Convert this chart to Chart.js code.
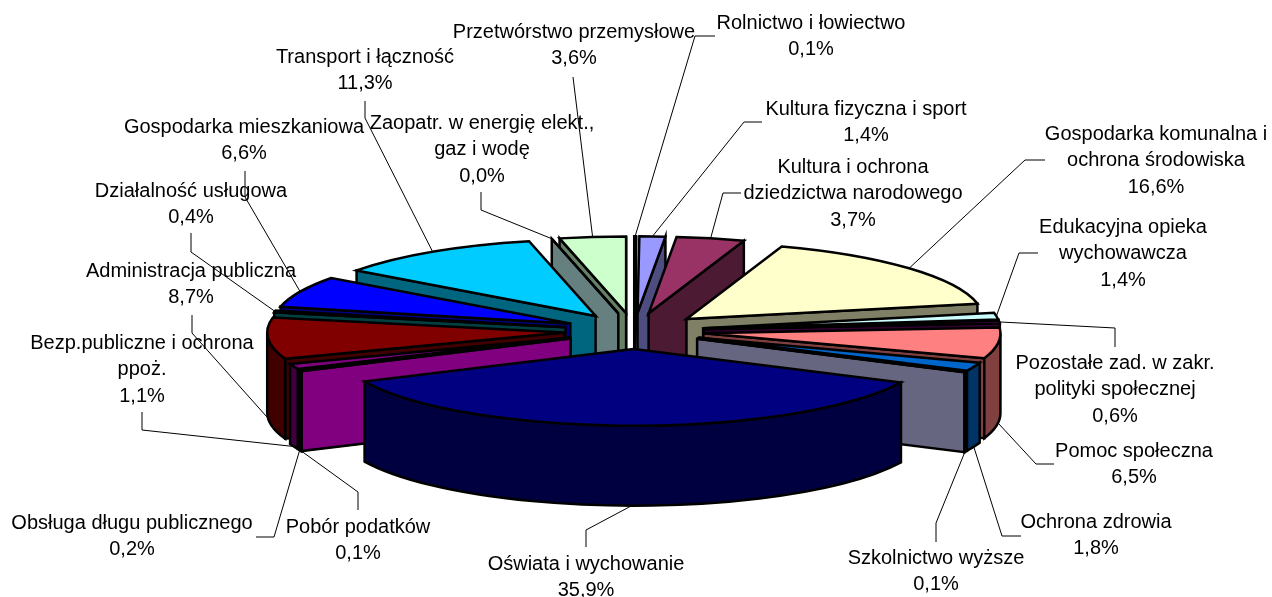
<!DOCTYPE html>
<html>
<head>
<meta charset="utf-8">
<title>Struktura wydatków</title>
<script src="https://cdn.jsdelivr.net/npm/chart.js@4"></script>
<style>
  html, body { margin: 0; padding: 0; background: #fff; overflow: hidden; }
  canvas { display: block; }
</style>
</head>
<body>
<canvas id="chart" width="1272" height="597"></canvas>
<script>
const categories = [
  ['Rolnictwo i łowiectwo'],
  ['Kultura fizyczna i sport'],
  ['Kultura i ochrona', 'dziedzictwa narodowego'],
  ['Gospodarka komunalna i', 'ochrona środowiska'],
  ['Edukacyjna opieka', 'wychowawcza'],
  ['Pozostałe zad. w zakr.', 'polityki społecznej'],
  ['Pomoc społeczna'],
  ['Ochrona zdrowia'],
  ['Szkolnictwo wyższe'],
  ['Oświata i wychowanie'],
  ['Pobór podatków'],
  ['Obsługa długu publicznego'],
  ['Bezp.publiczne i ochrona', 'ppoż.'],
  ['Administracja publiczna'],
  ['Działalność usługowa'],
  ['Gospodarka mieszkaniowa'],
  ['Transport i łączność'],
  ['Zaopatr. w energię elekt.,', 'gaz i wodę'],
  ['Przetwórstwo przemysłowe'],
];
const shares = [0.1, 1.4, 3.7, 16.6, 1.4, 0.6, 6.5, 1.8, 0.1, 35.9, 0.1, 0.2, 1.1, 8.7, 0.4, 6.6, 11.3, 0.0, 3.6];
const sliceColors = [
  '#808080', '#9999FF', '#993366', '#FFFFCC', '#CCFFFF', '#660066', '#FF8080', '#0066CC', '#CCCCFF', '#000080',
  '#FF00FF', '#FFFF00', '#800080', '#800000', '#008080', '#0000FF', '#00CCFF', '#CCFFFF', '#CCFFCC',
];

// label placement: centre x, y of first line, then the leader knee points
const labelX = [811, 866, 853, 1156, 1123, 1115, 1134, 1096, 936, 586, 358, 132, 142, 191, 191, 244, 365, 482, 574];
const labelY = [23, 109, 167, 134, 227, 363, 451, 522, 558, 564, 527, 523, 343, 271, 191, 127, 57, 123, 32];
const leaders = [
  [[715, 36], [695, 36]],
  [[762, 122], [744, 122]],
  [[741, 193], [723, 193]],
  [[1045, 160], [1025, 160]],
  [[1038, 253], [1019, 253]],
  [[1115, 347], [1115, 328]],
  [[1054, 464], [1036, 464]],
  [[1021, 536], [1002, 536]],
  [[936, 542], [936, 523]],
  [[586, 547], [586, 530]],
  [[358, 510], [358, 492]],
  [[256, 537], [274, 537]],
  [[142, 412], [142, 430]],
  [[192, 315], [192, 333]],
  [[191, 233], [191, 252]],
  [[245, 171], [245, 197]],
  [[365, 101], [365, 118]],
  [[481, 192], [481, 210]],
  [[573, 77]],
];

const RADIUS = 297;
const TILT = 0.258;     // vertical squash of the pie
const DEPTH = 80;       // height of the walls
const EXPLODE = 70;
const LINE_HEIGHT = 26.5;

function shade(hex) {
  const n = parseInt(hex.slice(1), 16);
  const half = v => Math.round(v / 2);
  return `rgb(${half(n >> 16)}, ${half((n >> 8) & 255)}, ${half(n & 255)})`;
}

function paint(ctx, fill) {
  ctx.fillStyle = fill;
  ctx.fill();
  ctx.stroke();
}

function drawRadialWall(ctx, ox, oy, angle, fill) {
  const ex = ox + Math.cos(angle) * RADIUS;
  const ey = oy + Math.sin(angle) * RADIUS * TILT;
  ctx.beginPath();
  ctx.moveTo(ox, oy);
  ctx.lineTo(ex, ey);
  ctx.lineTo(ex, ey + DEPTH);
  ctx.lineTo(ox, oy + DEPTH);
  ctx.closePath();
  paint(ctx, fill);
}

function drawSlice(ctx, arc, color) {
  const { startAngle: start, endAngle: end } = arc;
  const mid = (start + end) / 2;
  const ox = arc.x + Math.cos(mid) * EXPLODE;
  const oy = arc.y + Math.sin(mid) * EXPLODE * TILT;
  const wall = shade(color);

  if (Math.cos(end) > 0) drawRadialWall(ctx, ox, oy, end, wall);
  if (Math.cos(start) < 0) drawRadialWall(ctx, ox, oy, start, wall);

  // outer curved wall, only the part that faces the viewer
  const a1 = Math.max(start, 0);
  const a2 = Math.min(end, Math.PI);
  if (a2 > a1) {
    ctx.beginPath();
    ctx.ellipse(ox, oy, RADIUS, RADIUS * TILT, 0, a1, a2);
    ctx.ellipse(ox, oy + DEPTH, RADIUS, RADIUS * TILT, 0, a2, a1, true);
    ctx.closePath();
    paint(ctx, wall);
  }

  // top face: the fill comes from the arc element itself
  ctx.save();
  ctx.translate(ox, oy);
  ctx.scale(1, TILT);
  ctx.translate(-arc.x, -arc.y);
  arc.draw(ctx);
  ctx.restore();

  ctx.beginPath();
  ctx.moveTo(ox, oy);
  ctx.ellipse(ox, oy, RADIUS, RADIUS * TILT, 0, start, end);
  ctx.closePath();
  ctx.stroke();
}

function leaderAnchor(arc) {
  const mid = (arc.startAngle + arc.endAngle) / 2;
  const dist = EXPLODE + RADIUS;
  const x = arc.x + Math.cos(mid) * dist;
  const y = arc.y + Math.sin(mid) * dist * TILT;
  return [x, Math.sin(mid) > 0 ? y + DEPTH : y];
}

const pie3d = {
  id: 'pie3d',
  beforeDatasetsDraw(chart) {
    const ctx = chart.ctx;
    const arcs = chart.getDatasetMeta(0).data;
    const order = arcs.map((_, i) => i).sort((a, b) => {
      const depth = arc => Math.sin((arc.startAngle + arc.endAngle) / 2);
      return depth(arcs[a]) - depth(arcs[b]);
    });

    ctx.save();
    ctx.strokeStyle = '#000';
    ctx.lineWidth = 2.5;
    ctx.lineJoin = 'miter';
    order.forEach(i => drawSlice(ctx, arcs[i], sliceColors[i]));

    ctx.lineWidth = 1;
    leaders.forEach((knees, i) => {
      const [ax, ay] = leaderAnchor(arcs[i]);
      ctx.beginPath();
      knees.forEach(([x, y], k) => (k ? ctx.lineTo(x, y) : ctx.moveTo(x, y)));
      ctx.lineTo(ax, ay);
      ctx.stroke();
    });

    ctx.fillStyle = '#000';
    ctx.font = '20px "Liberation Sans", Arial, sans-serif';
    ctx.textAlign = 'center';
    ctx.textBaseline = 'middle';
    categories.forEach((lines, i) => {
      const text = [...lines, shares[i].toFixed(1).replace('.', ',') + '%'];
      text.forEach((line, n) => ctx.fillText(line, labelX[i], labelY[i] + n * LINE_HEIGHT));
    });
    ctx.restore();
    return false;
  },
};

new Chart(document.getElementById('chart'), {
  type: 'pie',
  data: {
    labels: categories.map(c => c.join(' ')),
    datasets: [{
      data: shares,
      backgroundColor: sliceColors,
      borderWidth: 0,
      radius: RADIUS,
      clip: false,
    }],
  },
  options: {
    responsive: false,
    animation: false,
    layout: { padding: { right: 4, top: 65 } },
    plugins: { legend: { display: false }, tooltip: { enabled: false } },
  },
  plugins: [pie3d],
});
</script>
</body>
</html>
